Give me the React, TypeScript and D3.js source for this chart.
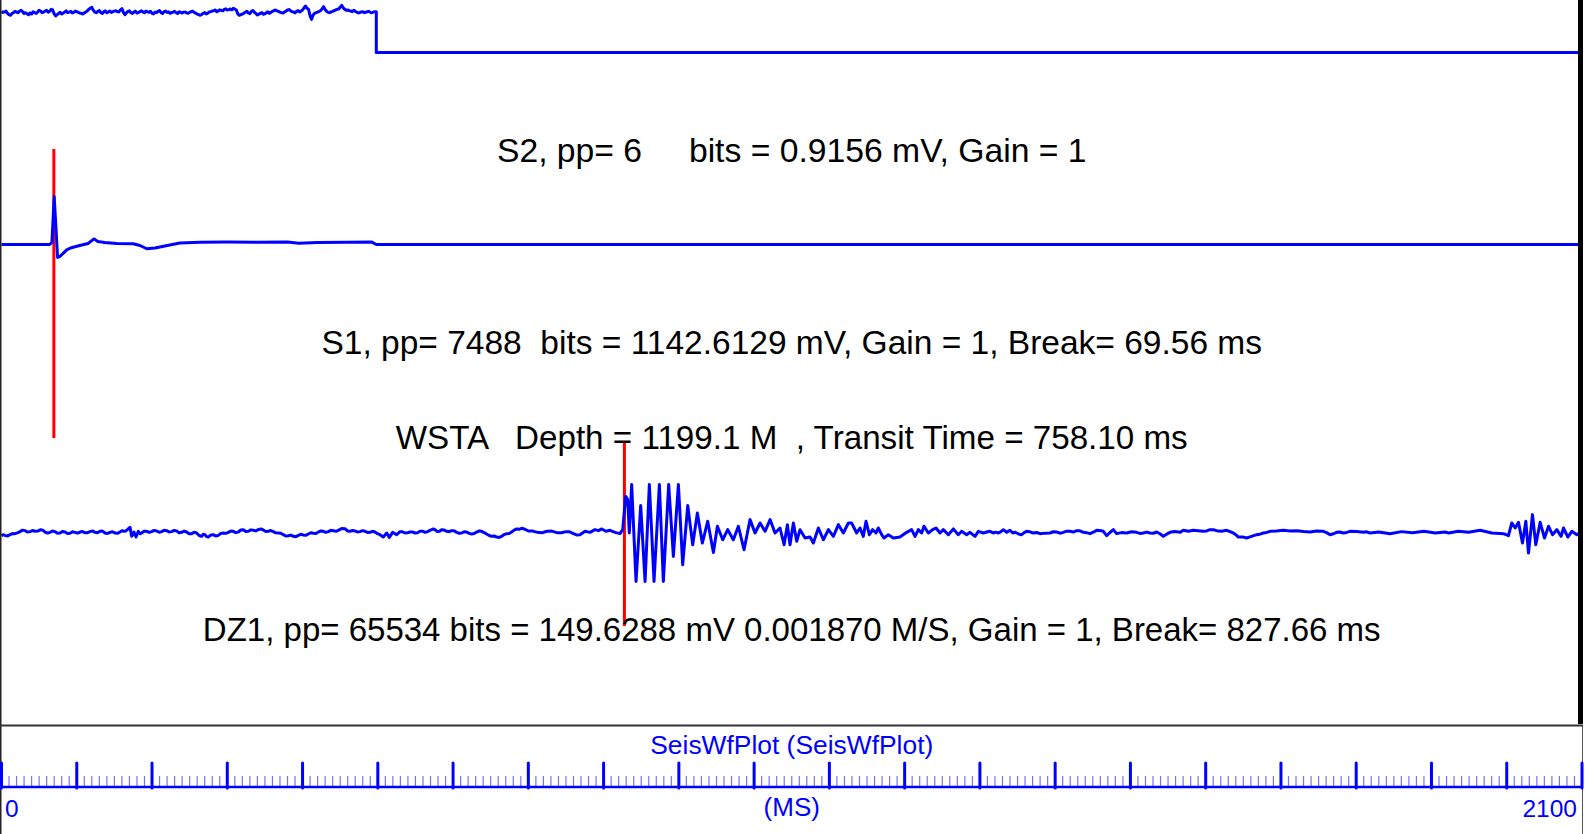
import React from "react";
import * as d3 from "d3";

// ---------- DATA ----------
const TIME_DOMAIN_MS = [0, 2100];
const AXIS_LABELS = [0, 2100];
const AXIS_TITLE = "SeisWfPlot (SeisWfPlot)";
const AXIS_UNIT = "(MS)";
const MAJOR_TICK_STEP = 100;
const MINOR_TICK_STEP = 10;

const S2_LABEL = "S2, pp= 6     bits = 0.9156 mV, Gain = 1";
const S1_LABEL = "S1, pp= 7488  bits = 1142.6129 mV, Gain = 1, Break= 69.56 ms";
const HEADER_LABEL = "WSTA   Depth = 1199.1 M  , Transit Time = 758.10 ms";
const DZ1_LABEL = "DZ1, pp= 65534 bits = 149.6288 mV 0.001870 M/S, Gain = 1, Break= 827.66 ms";

const S1_BREAK_MS = 69.56;
const DZ1_BREAK_MS = 827.66;

// S2: sampled every 2 ms while high, then steps down
const S2_DT_MS = 2;
const S2_HIGH_MV = [
  0.804, 0.79, 0.797, 0.815, 0.771, 0.745, 0.732, 0.77, 0.784, 0.81,
  0.797, 0.783, 0.817, 0.83, 0.804, 0.77, 0.784, 0.765, 0.745, 0.78,
  0.758, 0.8, 0.784, 0.77, 0.797, 0.83, 0.817, 0.785, 0.797, 0.815,
  0.83, 0.795, 0.81, 0.85, 0.837, 0.76, 0.719, 0.745, 0.771, 0.79,
  0.758, 0.775, 0.797, 0.82, 0.784, 0.795, 0.81, 0.78, 0.791, 0.815,
  0.804, 0.79, 0.778, 0.77, 0.758, 0.78, 0.797, 0.82, 0.85, 0.87,
  0.889, 0.83, 0.797, 0.785, 0.81, 0.825, 0.784, 0.77, 0.804, 0.82,
  0.784, 0.8, 0.817, 0.79, 0.804, 0.815, 0.824, 0.805, 0.797, 0.84,
  0.863, 0.79, 0.745, 0.78, 0.81, 0.82, 0.784, 0.77, 0.797, 0.815,
  0.778, 0.79, 0.804, 0.82, 0.797, 0.785, 0.817, 0.8, 0.791, 0.81,
  0.771, 0.76, 0.797, 0.785, 0.81, 0.825, 0.784, 0.77, 0.804, 0.815,
  0.791, 0.8, 0.771, 0.785, 0.797, 0.81, 0.784, 0.77, 0.804, 0.79,
  0.778, 0.795, 0.797, 0.78, 0.771, 0.79, 0.804, 0.815, 0.791, 0.775,
  0.758, 0.745, 0.732, 0.75, 0.771, 0.785, 0.758, 0.775, 0.797, 0.805,
  0.817, 0.825, 0.837, 0.805, 0.817, 0.84, 0.83, 0.82, 0.85, 0.86,
  0.837, 0.845, 0.856, 0.84, 0.87, 0.855, 0.837, 0.76, 0.732, 0.745,
  0.758, 0.77, 0.797, 0.81, 0.778, 0.765, 0.81, 0.825, 0.791, 0.77,
  0.738, 0.755, 0.771, 0.785, 0.752, 0.765, 0.784, 0.8, 0.771, 0.79,
  0.81, 0.825, 0.837, 0.82, 0.81, 0.795, 0.784, 0.775, 0.797, 0.815,
  0.837, 0.845, 0.824, 0.805, 0.797, 0.78, 0.81, 0.825, 0.797, 0.815,
  0.837, 0.88, 0.916, 0.87, 0.85, 0.72, 0.653, 0.74, 0.771, 0.785,
  0.797, 0.81, 0.824, 0.86, 0.902, 0.845, 0.81, 0.79, 0.784, 0.8,
  0.81, 0.825, 0.837, 0.85, 0.856, 0.89, 0.929, 0.88, 0.85, 0.83,
  0.837, 0.825, 0.817, 0.805, 0.83, 0.81, 0.797, 0.78, 0.784, 0.8,
  0.804, 0.785, 0.791, 0.805, 0.81, 0.79, 0.784, 0.795, 0.804,
];
const S2_STEP_MS = 498;
const S2_LOW: [number, number][] = [
  [498, 0],
  [2100, 0],
];

// S1: [ms, mV]
const S1: [number, number][] = [
  [0, 0], [64, 0], [67, 40], [70, 900], [72.5, 280], [74.5, -243], [77.5, -225],
  [81.5, -170], [87, -95], [94, -55], [104, -20], [115, 20], [123, 105], [128, 55],
  [137, 38], [153, 19], [175, 13], [184, -19], [193, -80], [204, -65], [217, -28],
  [237, 28], [264, 43], [300, 45], [340, 40], [380, 45], [395, 25], [420, 38],
  [460, 42], [492, 45], [498, 0], [2100, 0],
];

// DZ1: [ms, mV]
const DZ1: [number, number][] = [
  [0, -4.1], [2.3, -2.6], [4.6, -3.6], [8, -4.5], [11.3, -2.6], [14.6, -0.8], [17.9, -1.0], [21.2, 0.2],
  [24.6, 2.1], [27.9, 4.4], [31.2, 3.6], [34.5, 1.5], [37.9, 2.1], [41.2, 3.8], [44.5, 2.6], [48.2, 3.0],
  [52, 5.1], [54.9, 4.4], [57.8, 1.5], [61.1, 0], [64.4, 1.0], [67.7, 3.0], [71.1, 2.1], [74.4, -0.4],
  [77.7, 0], [81, 2.4], [84.4, 1.5], [87.7, -0.8], [91, -0.5], [94.3, 1.8], [97.7, 1.0], [101, -0.3],
  [104.3, 1.5], [107.6, 2.2], [110.9, 0.5], [114.2, 0.4], [117.6, 2.1], [120.9, 3.2], [124.2, 1.0],
  [127.5, 0.5], [130.9, 2.6], [134.2, 2.9], [137.5, 0], [140.8, -0.7], [144.2, 1.0], [147.5, 1.9],
  [150.8, 0], [154.1, -0.5], [157.4, 1.5], [160.1, 3.4], [162.8, 2.6], [165, 3.0], [167.2, 5.1],
  [170.7, 8.7], [173, -5.1], [176, 1.5], [178.7, -6.2], [181.8, 2.6], [184, -1.2], [186.2, 0],
  [189.5, 2.8], [192.9, 2.6], [196.2, 0.9], [199.5, 2.1], [202.8, 4.0], [206.2, 3.1], [209.5, 1.2],
  [212.8, 2.1], [216.1, 4.2], [219.5, 3.6], [222.8, 1.5], [226.1, 2.1], [229.4, 4.0], [232.7, 3.1],
  [236, 0.5], [239.4, 1.0], [242.7, 2.9], [246, 1.5], [249.3, -1.2], [252.7, -1.0], [256, 1.2],
  [259.3, 0], [262.6, -3.8], [266, -5.1], [268.2, -2.0], [270.4, -2.6], [272.6, -5.6], [274.8, -6.2],
  [278.1, -3.0], [281.5, -2.6], [284.8, -4.6], [288.1, -3.6], [291.4, -0.6], [294.7, 0], [298, -0.6],
  [301.4, 1.0], [304.7, 2.9], [308, 2.6], [311.3, 0.6], [314.7, 1.5], [318, 4.6], [321.3, 5.1],
  [324.6, 2.4], [328, 2.6], [331.3, 4.8], [334.6, 4.1], [337.9, 3.2], [341.2, 5.1], [344.5, 6.2],
  [347.9, 4.6], [351.2, 2.4], [354.5, 2.6], [357.8, 3.8], [361.2, 2.1], [364.5, 0.2], [367.8, 0],
  [371.1, -0.4], [374.5, -2.6], [377.8, -4.6], [381.1, -4.1], [384.4, -3.2], [387.8, -5.1], [391.1, -5.8],
  [394.4, -3.6], [397.7, -2.0], [401, -3.1], [404.3, -3.6], [407.7, -1.5], [411, 0.4], [414.3, -0.5],
  [417.6, -0.8], [421, 1.5], [424.3, 3.2], [427.6, 2.6], [430.9, 1.0], [434.3, 2.1], [437.6, 4.1],
  [440.9, 3.6], [444.2, 2.5], [447.5, 4.1], [452, 6.9], [456.4, 6.7], [459.7, 3.2], [463, 2.6],
  [466.3, 3.9], [469.7, 3.1], [473, 1.6], [476.3, 2.1], [479.6, 3.6], [483, 2.6], [486.3, 0.8],
  [489.6, 1.0], [492.9, 2.6], [496.3, 1.5], [499.6, -1.0], [502.9, -2.6], [507.3, -6.2], [511.8, 0],
  [515.3, -6.7], [519.7, 1.0], [525.1, -2.6], [529.5, 2.1], [532.8, 1.8], [536.1, 0], [539.4, 0.2],
  [542.8, 1.5], [546.1, 1.6], [549.4, 0], [552.7, 0.4], [556, 2.6], [559.3, 2.8], [562.7, 1.0],
  [566, 1.8], [569.3, 4.1], [573.8, 6.2], [576.4, 4.8], [579.1, 2.1], [582, 2.8], [584.8, 5.1],
  [588.1, 4.6], [591.5, 2.6], [594.8, 2.0], [598.1, 3.6], [601.4, 3.4], [604.8, 1.0], [608.1, -0.4],
  [611.4, 0], [614.7, 1.9], [618, 1.5], [621.3, -0.6], [624.7, -1.5], [628, -0.8], [631.3, 1.5],
  [634.6, 3.2], [638, 2.6], [641.3, 0.6], [644.6, -1.5], [648, -3.8], [651.3, -5.1], [654.6, -4.6],
  [657.9, -6.2], [661.2, -6.8], [664.6, -5.1], [667.9, -2.4], [671.2, -1.0], [674.5, -0.9], [677.8, 1.5],
  [681.1, 4.4], [684.5, 6.2], [687.8, 5.6], [691.1, 7.2], [695.5, 5.8], [700, 3.1], [706, 2.9],
  [712, 1.0], [718, 0.5], [725, 2.6], [731, 2.9], [738, 0.5], [744, 0.4], [750, 2.1], [755, 1.8],
  [760, -1.0], [764, -2.9],
  [768.7, -2.6], [775.3, 2.6], [782, 1.0], [788.6, 5.1], [793.1, 3.6], [797.5, 6.2], [803.2, 2.6],
  [808.6, 4.1], [815.2, 1.0], [821.8, -1.0], [825.4, 5.1], [829.4, 56.5], [832, 51.3], [834.2, 0],
  [837.3, 74.4], [843.1, -74.4], [849.3, 42.1], [855.1, -74.4], [860.8, 74.4], [867, -74.4],
  [874.1, 74.4], [879.4, -74.4], [886.5, 74.4], [892.7, -35.9], [899.4, 74.4], [905.1, -48.8],
  [911.8, 42.1], [918.4, -18.0], [924.6, 30.8], [931.2, -15.4], [938.3, 18.0], [945.9, -29.8],
  [951.2, 10.3], [958.3, -10.3], [964.9, 5.1], [972.4, -10.3], [979.1, 10.3], [986.6, -25.7],
  [994.6, 20.5], [1001.2, 0], [1007.9, 15.4], [1014.5, 2.6], [1021.2, 20.5], [1027.8, 0],
  [1034.4, 7.7], [1039.8, -18.0], [1044.2, 12.8], [1047.7, -18.0], [1052.2, 15.4], [1056.6, -12.8],
  [1061, 5.1], [1067.7, -7.7], [1074.3, -6.2], [1078.7, -15.4], [1085.4, 7.7], [1092, -10.3],
  [1098.7, 5.1], [1105.3, -5.1], [1112, 12.8], [1118.6, 0], [1125.2, 15.4],
  [1129.6, 15.4], [1136.3, 0], [1140.7, 7.7], [1145.1, -5.1], [1148.7, 18.0], [1153.1, -2.6],
  [1157.5, 5.1], [1162, 0], [1165, 7.7], [1169.5, -2.6], [1172.6, -7.7], [1178.3, -2.6],
  [1185, -7.7], [1193.8, -6.2], [1202.7, 1.0], [1209.3, 5.1], [1213.8, -5.1], [1218.2, 5.1],
  [1222.6, 0], [1225.7, 10.3], [1231.5, 0], [1237.2, 5.1], [1241.7, 7.7], [1247, 0], [1251.4, 5.1],
  [1258.1, -2.6], [1264.7, 6.2], [1271.3, -2.6], [1275.8, 2.6], [1282.4, -2.6], [1286.8, 1.0],
  [1293.5, -5.1], [1297.9, 2.6],
  [1304.6, 0], [1309, 1.6], [1313.4, 2.6], [1315.6, 1.4], [1317.8, 0], [1321, 1.3], [1324.5, 0],
  [1328, 2.2], [1331.1, 5.1], [1333.4, 3.2], [1335.6, 1.0], [1337.8, 2.8], [1340, 4.1], [1342.2, 1.6],
  [1344.4, 0], [1346.6, 1.2], [1348.9, 0], [1352, -1.8], [1355.5, -2.6], [1358.8, 0.6], [1362.1, 2.6],
  [1366.5, 1.8], [1370.9, 0], [1375.4, 0.8], [1379.9, -1.0], [1386.5, -0.2], [1393.1, 0], [1397.5, 1.9],
  [1402, 1.5], [1406.4, -0.3], [1410.9, 1.0], [1415.3, 2.8], [1419.7, 2.6], [1424.2, 1.5], [1428.6, 3.6],
  [1433, 3.3], [1437.4, 1.0], [1441.8, 0.5], [1446.3, -1.0], [1450.7, 1.2], [1455.1, 4.1], [1459.5, 3.9],
  [1464, 2.6], [1468.4, -4.1], [1472.8, 0.8], [1477.3, 5.1], [1481.7, -1.0], [1488, 0.6], [1495, 0],
  [1501.6, 1.8], [1508.3, 1.0], [1512.7, -0.6], [1517.2, 0], [1521.6, 1.4], [1526, 0], [1530.4, -0.4],
  [1534.9, 1.5], [1539.3, -1.2], [1543.7, -5.1], [1548.1, -1.8], [1552.6, 1.0], [1559, 2.2],
  [1565.9, 1.0], [1570.3, 4.1], [1577, 2.6], [1583.6, 4.1], [1590, 3.6], [1596.9, 2.6], [1601.3, 3.2],
  [1605.7, 5.1], [1610.1, 4.9], [1614.6, 3.6], [1621, 2.8], [1627.9, 4.1], [1632.3, 2.0], [1636.7, 0],
  [1640, -2.6], [1643.4, -6.2], [1649, -6.0], [1654.4, -7.7], [1661, -5.2], [1667.7, -2.6], [1672, -1.8],
  [1676.6, 0], [1681, 0.9], [1685.5, 2.6], [1694, 3.0], [1703.2, 4.1], [1712, 2.9], [1720.9, 3.6],
  [1730, 2.2], [1738.6, 1.5], [1747, 3.2], [1756.3, 2.6], [1760.7, 0.6], [1765.2, -2.6], [1769.6, -1.2],
  [1774, 1.0], [1778.4, 1.6], [1782.9, 0], [1787.3, 0.9], [1791.7, 2.6], [1800.5, 2.3], [1809.4, 1.0],
  [1814, 1.8], [1818.3, 0], [1830, 1.5], [1845, -1.0], [1860, 2.1],
  [1875, 0.5], [1890, 2.6], [1905, 0], [1918, 1.5],
  [1922.6, 0], [1935.9, 2.6], [1949.2, 1.0], [1964.7, 4.1], [1980.2, 0], [1995.7, -1.0],
  [2002.3, -4.1], [2006.7, 15.4], [2011.2, 7.7], [2015.6, 16.4], [2020.9, -15.4], [2025.4, 18.0],
  [2028.9, -30.8], [2034.2, 28.2], [2038.6, -18.0], [2044.4, 16.4], [2050.2, -7.7], [2055.5, 10.3],
  [2060.8, -2.6], [2066.5, 5.1], [2072.3, -5.1], [2075.4, 7.7], [2081.2, -6.2], [2086.5, 2.6],
  [2093.1, -2.6], [2099.8, 2.6],
];

// ---------- LAYOUT ----------
const W = 1585;
const H = 834;
const FONT = "'Liberation Sans', Arial, Helvetica, sans-serif";
const BLUE = "#0000ff";
const RED = "#ff0000";

export default function App() {
  const x = d3.scaleLinear().domain(TIME_DOMAIN_MS).range([1.5, 1582]);
  const yS2 = d3.scaleLinear().domain([0, 0.9156]).range([52.5, 6]);
  const yS1 = d3.scaleLinear().domain([0, 900]).range([244.5, 196.5]);
  const yDZ = d3.scaleLinear().domain([-74.4, 74.4]).range([581.5, 484.5]);

  const s2Pts: [number, number][] = S2_HIGH_MV.map((v, i) => [i * S2_DT_MS, v] as [number, number]);
  s2Pts.push([S2_STEP_MS, S2_HIGH_MV[S2_HIGH_MV.length - 1]]);
  const s2All = s2Pts.concat(S2_LOW);

  const lineS2 = d3.line<[number, number]>().x((d) => x(d[0])).y((d) => yS2(d[1]));
  const lineS1 = d3.line<[number, number]>().x((d) => x(d[0])).y((d) => yS1(d[1]));
  const lineDZ = d3.line<[number, number]>().x((d) => x(d[0])).y((d) => yDZ(d[1]));

  const majors = d3.range(TIME_DOMAIN_MS[0], TIME_DOMAIN_MS[1] + 1, MAJOR_TICK_STEP);
  const minors = d3
    .range(TIME_DOMAIN_MS[0], TIME_DOMAIN_MS[1] + 1, MINOR_TICK_STEP)
    .filter((t) => t % MAJOR_TICK_STEP !== 0);

  const cx = (x(TIME_DOMAIN_MS[0]) + x(TIME_DOMAIN_MS[1])) / 2;
  const textStyle: React.CSSProperties = { whiteSpace: "pre" };
  const axisY = 787;
  const traceW = 3;

  return (
    <svg
      width={W}
      height={H}
      style={{ position: "fixed", left: 0, top: 0, display: "block", background: "#fff" }}
      fontFamily={FONT}
    >
      <rect x={0} y={0} width={W} height={H} fill="#fff" />

      {/* red break markers */}
      <line x1={x(S1_BREAK_MS)} x2={x(S1_BREAK_MS)} y1={149} y2={438} stroke={RED} strokeWidth={3} />
      <line x1={x(DZ1_BREAK_MS)} x2={x(DZ1_BREAK_MS)} y1={441} y2={626} stroke={RED} strokeWidth={3} />

      {/* traces */}
      <path d={lineS2(s2All) || ""} fill="none" stroke={BLUE} strokeWidth={traceW} strokeLinejoin="round" />
      <path d={lineS1(S1) || ""} fill="none" stroke={BLUE} strokeWidth={traceW} strokeLinejoin="round" />
      <path d={lineDZ(DZ1) || ""} fill="none" stroke={BLUE} strokeWidth={traceW} strokeLinejoin="round" />

      {/* trace labels */}
      <g fill="#000" textAnchor="middle">
        <text x={cx} y={162} fontSize={33.7} style={textStyle}>{S2_LABEL}</text>
        <text x={cx} y={353.5} fontSize={33.5} style={textStyle}>{S1_LABEL}</text>
        <text x={cx} y={449} fontSize={33.2} style={textStyle}>{HEADER_LABEL}</text>
        <text x={cx} y={641} fontSize={33.0} style={textStyle}>{DZ1_LABEL}</text>
      </g>

      {/* panel borders */}
      <line x1={0.75} x2={0.75} y1={0} y2={H} stroke="#222" strokeWidth={1.5} />
      <rect x={1578} y={0} width={5} height={724} fill="#000" />
      <line x1={0} x2={1583} y1={725.5} y2={725.5} stroke="#333" strokeWidth={2} />
      <line x1={1582.5} x2={1582.5} y1={726} y2={H} stroke="#555" strokeWidth={1} />

      {/* time axis */}
      <text x={cx} y={754} fontSize={26.4} fill={BLUE} textAnchor="middle">{AXIS_TITLE}</text>
      {minors.map((t) => (
        <line key={"mi" + t} x1={x(t)} x2={x(t)} y1={776} y2={axisY} stroke={BLUE} strokeOpacity={0.55} strokeWidth={1.2} />
      ))}
      <line x1={0} x2={1583} y1={axisY} y2={axisY} stroke={BLUE} strokeWidth={2.5} />
      {majors.map((t) => (
        <line key={"ma" + t} x1={x(t)} x2={x(t)} y1={763} y2={axisY + 1} stroke={BLUE} strokeWidth={3} strokeLinecap="round" />
      ))}
      <text x={5} y={817} fontSize={24.5} fill={BLUE} textAnchor="start">{AXIS_LABELS[0]}</text>
      <text x={1577} y={817} fontSize={24.5} fill={BLUE} textAnchor="end">{AXIS_LABELS[1]}</text>
      <text x={cx} y={816} fontSize={26} fill={BLUE} textAnchor="middle">{AXIS_UNIT}</text>
    </svg>
  );
}
